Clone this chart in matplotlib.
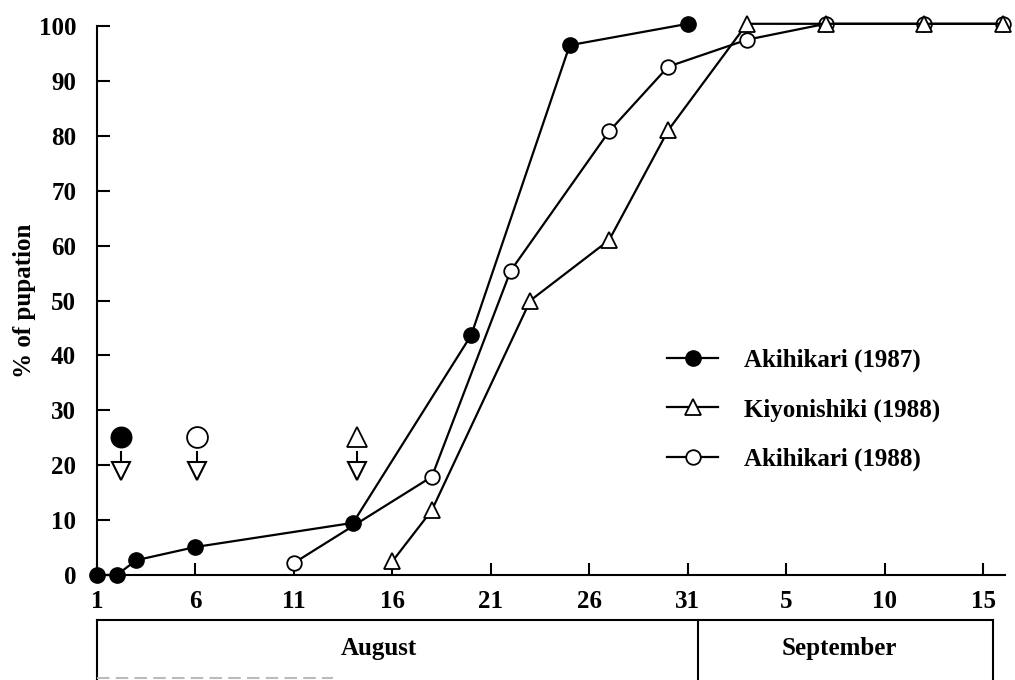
import matplotlib
matplotlib.use("Agg")
import matplotlib.pyplot as plt
import matplotlib.transforms as mtrans

plt.rcParams['font.family'] = ['Liberation Serif', 'DejaVu Serif']
plt.rcParams['font.weight'] = 'bold'

# ---- data (x = day counted from August 1 = 1; September d = 31 + d) ----
aki87_days = [1, 2, 3, 6, 14, 20, 25, 31]
aki87_pct = [0, 0, 2.7, 5.1, 9.5, 43.7, 96.5, 100.4]

kiyo88_days = [16, 18, 23, 27, 30, 34, 38, 43, 47]
kiyo88_pct = [2.5, 11.8, 50.0, 61.0, 81.0, 100.4, 100.4, 100.4, 100.4]

aki88_days = [11, 18, 22, 27, 30, 34, 38, 43, 47]
aki88_pct = [2.2, 17.9, 55.4, 80.8, 92.6, 97.5, 100.4, 100.4, 100.4]

labels = ['Akihikari (1987)', 'Kiyonishiki (1988)', 'Akihikari (1988)']

# indicator symbols (start dates) with arrows
ind_days = [2.2, 6.1, 14.2]
ind_level = 25.1
ind_head = 18.9

xtick_pos = [1, 6, 11, 16, 21, 26, 31, 36, 41, 46]
xtick_lab = ['1', '6', '11', '16', '21', '26', '31', '5', '10', '15']
ytick_pos = list(range(0, 101, 10))

months = ['August', 'September']
month_bounds = [1, 31.5, 46.5]
month_label_x = [15.3, 38.7]

FS = 18

fig = plt.figure(figsize=(10.15, 6.8), dpi=100)
ax = fig.add_axes([97 / 1015, 1 - 575 / 680, (1005 - 97) / 1015, (575 - 26) / 680])
ax.set_xlim(1, 47.1)
ax.set_ylim(0, 100)

lw = 1.6
l1, = ax.plot(aki87_days, aki87_pct, '-o', color='black', lw=lw, ms=11,
              mfc='black', mec='black', clip_on=False, zorder=3)
l2, = ax.plot(kiyo88_days, kiyo88_pct, '-^', color='black', lw=lw, ms=11,
              mfc='white', mec='black', mew=1.3, clip_on=False, zorder=4)
l3, = ax.plot(aki88_days, aki88_pct, '-o', color='black', lw=lw, ms=10.5,
              mfc='white', mec='black', mew=1.3, clip_on=False, zorder=3)

# indicators
ind_styles = [dict(marker='o', ms=14.5, mfc='black'),
              dict(marker='o', ms=15, mfc='white'),
              dict(marker='^', ms=14, mfc='white')]
for d, st in zip(ind_days, ind_styles):
    ax.plot([d], [ind_level], linestyle='none', mec='black', mew=1.3,
            clip_on=False, **st)
    ax.plot([d, d], [ind_level - 2.7, ind_head + 1.6], color='black', lw=1.5)
    ax.plot([d], [ind_head], linestyle='none', marker='v', ms=13,
            mfc='white', mec='black', mew=1.5)

# axes styling
for s in ['top', 'right']:
    ax.spines[s].set_visible(False)
for s in ['left', 'bottom']:
    ax.spines[s].set_linewidth(1.5)
ax.set_xticks(xtick_pos)
ax.set_xticklabels(xtick_lab)
ax.set_yticks(ytick_pos)
ax.tick_params(axis='both', direction='in', length=9, width=1.5,
               labelsize=FS)
ax.tick_params(axis='y', pad=15)
ax.tick_params(axis='x', pad=11)
for t in ax.get_xticklabels() + ax.get_yticklabels():
    t.set_fontweight('bold')

ax.set_ylabel('% of pupation', fontsize=FS, fontweight='bold')
ax.yaxis.set_label_coords(-(97 - 25) / 908, 0.5)
ax.yaxis.label.set_va('center')

leg = ax.legend([l1, l2, l3], labels, loc='upper left',
                bbox_to_anchor=(667 / 1015, 1 - 349 / 680),
                bbox_transform=fig.transFigure, frameon=False,
                fontsize=FS, handlelength=2.05, handletextpad=1.05,
                labelspacing=1.03, borderpad=0, borderaxespad=0)
for t in leg.get_texts():
    t.set_fontweight('bold')

# month box beneath the axis
tr = mtrans.blended_transform_factory(ax.transData, fig.transFigure)
box_top = 1 - 620 / 680
ax.plot([month_bounds[0], month_bounds[-1]], [box_top, box_top],
        color='black', lw=1.5, transform=tr, clip_on=False)
for b in month_bounds:
    ax.plot([b, b], [box_top, -0.02], color='black', lw=1.5,
            transform=tr, clip_on=False)
ax.plot([month_bounds[0], 13.0], [0.003, 0.003], color='#bbbbbb', lw=1.5,
        ls=(0, (6, 3)), transform=tr, clip_on=False)
for m, mx in zip(months, month_label_x):
    ax.text(mx, 1 - 648 / 680, m, transform=tr, ha='center', va='center',
            fontsize=FS, fontweight='bold')

fig.savefig('out.png', dpi=100)
